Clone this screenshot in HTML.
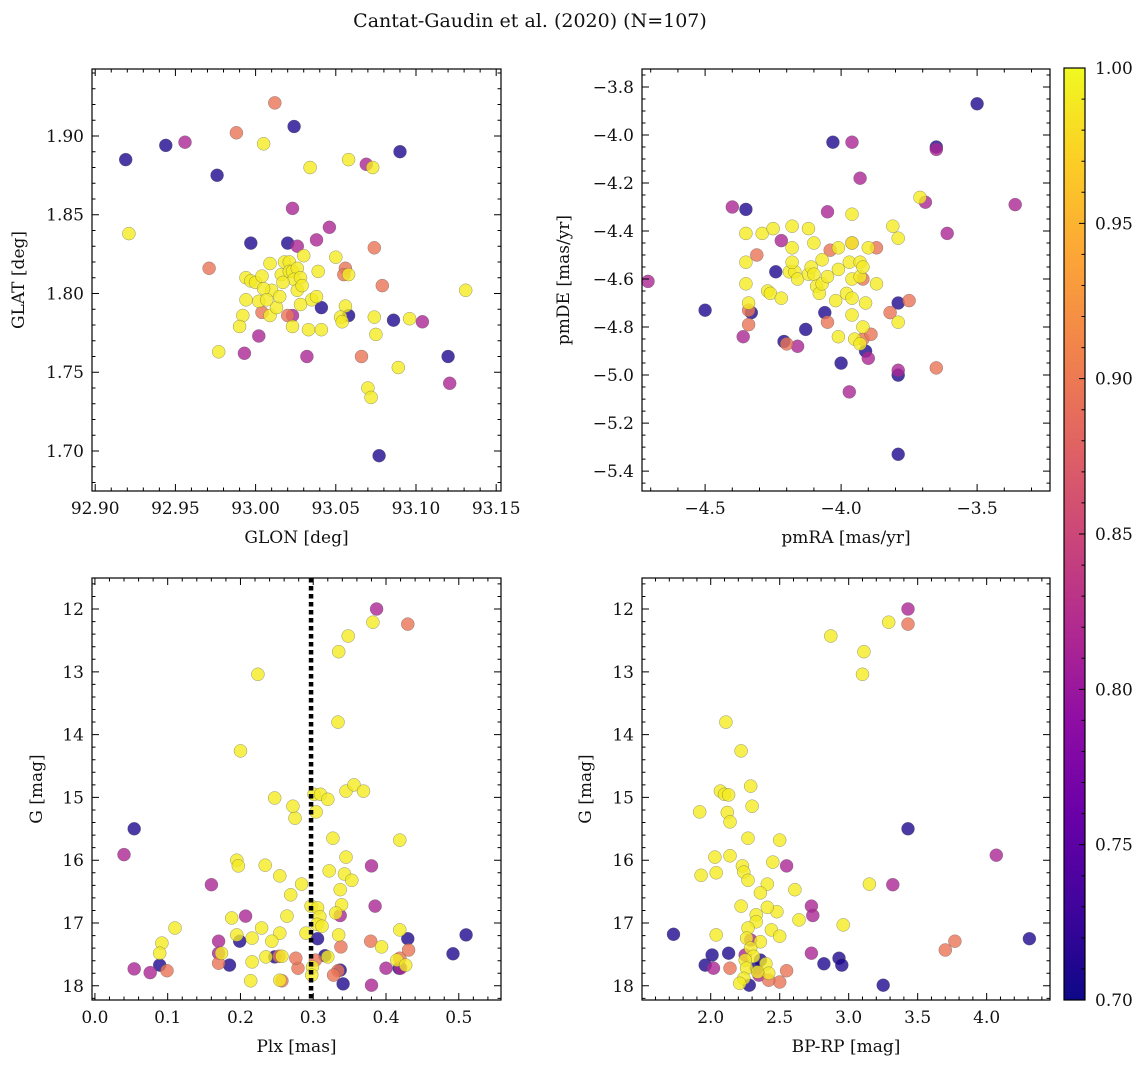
<!DOCTYPE html>
<html><head><meta charset="utf-8"><style>
html,body{margin:0;padding:0;background:#fff;}
svg text{font-family:"DejaVu Serif","Liberation Serif",serif;fill:#111;}
</style></head><body>
<svg id="fig" width="1148" height="1068" viewBox="0 0 1148 1068" xmlns="http://www.w3.org/2000/svg">
<defs><linearGradient id="plasma" x1="0" y1="1" x2="0" y2="0">
<stop offset="0" stop-color="#0d0887"/><stop offset="0.1" stop-color="#41049d"/><stop offset="0.2" stop-color="#6a00a8"/><stop offset="0.3" stop-color="#8f0da4"/><stop offset="0.4" stop-color="#b12a90"/><stop offset="0.5" stop-color="#cc4778"/><stop offset="0.6" stop-color="#e16462"/><stop offset="0.7" stop-color="#f2844b"/><stop offset="0.8" stop-color="#fca636"/><stop offset="0.9" stop-color="#fcce25"/><stop offset="1" stop-color="#f0f921"/>
</linearGradient></defs>
<text x="530" y="27" font-size="19" text-anchor="middle">Cantat-Gaudin et al. (2020) (N=107)</text>
</svg>
<script>
// membership probability per group: dark, purple, orange, yellow
const groupP = [0.71, 0.815, 0.895, 0.99];
// top-left: GLON / GLAT
const tlLonDark=[92.919,92.944,92.976,92.997,93.020,93.024,93.041,93.058,93.086,93.077,93.090,93.120];
const tlLatDark=[1.885,1.894,1.875,1.832,1.832,1.906,1.791,1.786,1.783,1.697,1.890,1.760];
const tlLonPurple=[92.956,93.023,93.026,93.038,93.046,92.993,93.002,93.032,93.069,93.104,93.121,93.023];
const tlLatPurple=[1.896,1.854,1.830,1.834,1.842,1.762,1.773,1.760,1.882,1.782,1.743,1.786];
const tlLonOrange=[93.012,92.988,92.971,93.074,93.056,93.079,93.066,93.055,93.004,93.020];
const tlLatOrange=[1.921,1.902,1.816,1.829,1.816,1.805,1.760,1.812,1.788,1.786];
const tlLonYellow=[92.921,93.005,93.034,93.058,93.073,92.977,92.992,92.990,92.994,92.997,93.000,93.004,93.009,93.016,93.018,93.021,93.021,93.023,93.026,93.024,93.028,93.026,93.029,93.017,93.010,93.009,93.013,93.023,93.033,93.035,93.038,93.039,93.041,93.050,93.056,93.058,93.053,93.054,93.028,93.002,93.005,93.070,93.072,93.074,93.075,93.089,93.096,93.131,93.030,93.015,93.007,92.994];
const tlLatYellow=[1.838,1.895,1.880,1.885,1.880,1.763,1.786,1.779,1.810,1.808,1.807,1.811,1.819,1.812,1.820,1.820,1.814,1.814,1.816,1.809,1.810,1.802,1.805,1.807,1.802,1.786,1.791,1.779,1.777,1.796,1.798,1.814,1.777,1.823,1.792,1.812,1.785,1.782,1.793,1.795,1.803,1.740,1.734,1.785,1.774,1.753,1.784,1.802,1.824,1.798,1.796,1.796];
// top-right: pmRA / pmDE
const trRaDark=[-3.50,-4.03,-3.65,-4.35,-4.50,-4.33,-4.24,-4.13,-4.21,-4.06,-4.00,-3.91,-3.79,-3.79,-3.79];
const trDeDark=[-3.87,-4.03,-4.05,-4.31,-4.73,-4.74,-4.57,-4.81,-4.86,-4.74,-4.95,-4.90,-4.70,-5.00,-5.33];
const trRaPurple=[-4.71,-4.40,-3.96,-3.93,-4.05,-3.65,-3.69,-3.61,-3.36,-4.36,-4.16,-3.97,-3.90,-3.79,-4.22];
const trDePurple=[-4.61,-4.30,-4.03,-4.18,-4.32,-4.06,-4.28,-4.41,-4.29,-4.84,-4.88,-5.07,-4.93,-4.98,-4.44];
const trRaOrange=[-4.31,-4.34,-4.34,-4.20,-4.05,-4.04,-3.96,-3.92,-3.89,-3.92,-3.82,-3.75,-3.65,-3.87];
const trDeOrange=[-4.50,-4.73,-4.79,-4.87,-4.78,-4.48,-4.45,-4.85,-4.83,-4.60,-4.74,-4.69,-4.97,-4.47];
const trRaYellow=[-4.35,-4.29,-4.25,-4.18,-4.12,-4.35,-4.34,-4.27,-4.26,-4.19,-4.17,-4.18,-4.18,-4.16,-4.12,-4.11,-4.10,-4.09,-4.08,-4.07,-4.05,-4.01,-4.01,-3.98,-3.96,-3.97,-3.96,-3.96,-3.96,-3.96,-3.95,-3.93,-3.93,-3.92,-3.90,-3.91,-3.93,-3.92,-3.87,-3.81,-3.79,-3.79,-3.71,-4.01,-4.22,-4.02,-4.10,-4.07,-4.35];
const trDeYellow=[-4.41,-4.41,-4.39,-4.38,-4.39,-4.53,-4.70,-4.65,-4.66,-4.57,-4.57,-4.47,-4.53,-4.60,-4.58,-4.55,-4.58,-4.63,-4.66,-4.62,-4.59,-4.56,-4.47,-4.66,-4.60,-4.53,-4.45,-4.68,-4.75,-4.33,-4.85,-4.59,-4.53,-4.55,-4.47,-4.70,-4.87,-4.80,-4.62,-4.38,-4.43,-4.78,-4.26,-4.84,-4.68,-4.69,-4.45,-4.52,-4.62];
// bottom-left: Plx / G
const blPlxDark=[0.054,0.089,0.185,0.199,0.247,0.306,0.316,0.337,0.341,0.418,0.430,0.492,0.510];
const blGDark=[15.50,17.67,17.67,17.29,17.54,17.25,17.52,17.75,17.97,17.72,17.25,17.49,17.19];
const blPlxPurple=[0.040,0.054,0.076,0.160,0.170,0.170,0.207,0.387,0.380,0.385,0.337,0.380,0.400,0.420];
const blGPurple=[15.91,17.73,17.79,16.39,17.29,17.48,16.89,12.00,16.09,16.73,16.88,17.99,17.72,17.72];
const blPlxOrange=[0.430,0.099,0.170,0.253,0.257,0.279,0.338,0.334,0.328,0.379,0.419,0.431,0.303,0.276];
const blGOrange=[12.24,17.76,17.64,17.53,17.92,17.72,17.38,17.76,17.83,17.29,17.56,17.43,17.59,17.56];
const blPlxYellow=[0.382,0.348,0.335,0.224,0.334,0.200,0.247,0.275,0.272,0.301,0.310,0.320,0.345,0.356,0.369,0.304,0.327,0.419,0.345,0.195,0.197,0.234,0.254,0.322,0.343,0.284,0.269,0.337,0.353,0.297,0.306,0.339,0.264,0.309,0.331,0.305,0.312,0.188,0.110,0.092,0.229,0.254,0.290,0.195,0.216,0.243,0.335,0.419,0.089,0.174,0.235,0.299,0.216,0.415,0.427,0.394,0.257,0.214,0.298,0.320,0.254];
const blGYellow=[12.21,12.43,12.68,13.04,13.80,14.26,15.01,15.33,15.14,14.95,14.95,15.03,14.90,14.80,14.90,15.23,15.65,15.68,15.95,16.00,16.09,16.08,16.25,16.17,16.22,16.38,16.55,16.47,16.32,16.73,16.76,16.71,16.89,16.90,16.84,17.02,17.05,16.92,17.08,17.32,17.08,17.16,17.16,17.19,17.24,17.29,17.19,17.11,17.48,17.48,17.54,17.70,17.62,17.59,17.67,17.38,17.53,17.92,17.83,17.54,17.91];
// bottom-right: BP-RP / G
const brColDark=[1.73,1.96,2.01,2.13,2.28,2.33,2.82,2.93,2.95,3.25,3.43,4.31,2.36];
const brGDark=[17.18,17.67,17.51,17.48,17.99,17.72,17.65,17.56,17.67,17.99,15.50,17.25,17.59];
const brColPurple=[3.43,4.07,3.32,2.55,2.73,2.74,2.73,2.29,2.02,2.35,2.25];
const brGPurple=[12.00,15.92,16.39,16.09,16.73,16.88,17.48,17.27,17.72,17.83,17.51];
const brColOrange=[3.43,3.77,3.70,2.55,2.50,2.42,2.14];
const brGOrange=[12.24,17.29,17.43,17.76,17.94,17.91,17.72];
const brColYellow=[2.87,3.29,3.11,3.10,2.11,2.22,2.29,2.07,2.10,2.13,1.92,2.12,2.14,2.30,2.27,2.50,2.14,2.03,2.23,2.24,2.27,2.04,1.93,2.41,2.45,2.61,3.15,2.36,2.48,2.64,2.33,2.22,2.41,2.33,2.96,2.27,2.44,2.04,2.50,2.26,2.36,2.29,2.31,2.25,2.26,2.40,2.24,2.21,2.42,2.34];
const brGYellow=[12.43,12.21,12.68,13.04,13.80,14.26,14.82,14.90,14.95,14.96,15.23,15.24,15.39,15.14,15.65,15.68,15.93,15.95,16.09,16.19,16.32,16.20,16.24,16.38,16.03,16.47,16.38,16.52,16.82,16.95,16.87,16.73,16.75,16.98,17.03,17.08,17.11,17.19,17.21,17.24,17.30,17.40,17.53,17.59,17.72,17.65,17.88,17.96,17.80,17.78];
const plxLine = 0.297;
const cbTicks = [0.70,0.75,0.80,0.85,0.90,0.95,1.00];

const NS="http://www.w3.org/2000/svg";
const svg=document.getElementById('fig');
function mk(tag,attrs,parent){const e=document.createElementNS(NS,tag);for(const k in attrs)e.setAttribute(k,attrs[k]);(parent||svg).appendChild(e);return e;}
const stops=[[0,13,8,135],[0.1,65,4,157],[0.2,106,0,168],[0.3,143,13,164],[0.4,177,42,144],[0.5,204,71,120],[0.6,225,100,98],[0.7,242,132,75],[0.8,252,166,54],[0.9,252,206,37],[1,240,249,33]];
function plasma(t){t=Math.max(0,Math.min(1,t));for(let i=1;i<stops.length;i++){if(t<=stops[i][0]){const a=stops[i-1],b=stops[i],f=(t-a[0])/(b[0]-a[0]);return 'rgb('+[1,2,3].map(j=>Math.round(a[j]+f*(b[j]-a[j]))).join(',')+')';}}return 'rgb(240,249,33)';}
const vmin=0.70,vmax=1.00;
function fmt(v,d){const s=Math.abs(v).toFixed(d);return (v<-1e-9?'\u2212':'')+s;}

function panel(cfg){
  const {name,L,T,R,B,xmin,xmax,ymin,ymax,xmaj,xmin_,ymaj,ymin_,xd,yd,xlabel,ylabel,invert,groups}=cfg;
  const sx=v=>L+(v-xmin)/(xmax-xmin)*(R-L);
  const sy=invert?(v=>T+(v-ymin)/(ymax-ymin)*(B-T)):(v=>B-(v-ymin)/(ymax-ymin)*(B-T));
  const g=mk('g',{});
  
  
  const pg=mk('g',{},g);
  
  
  groups.forEach((gr,gi)=>{
    const n=Math.min(gr[0].length,gr[1].length);
    for(let i=0;i<n;i++){
      const c=mk('circle',{cx:sx(gr[0][i]).toFixed(1),cy:sy(gr[1][i]).toFixed(1),r:6.5,fill:plasma((groupP[gi]-vmin)/(vmax-vmin)),'fill-opacity':0.8,stroke:'#555','stroke-width':0.5,'stroke-opacity':0.6},pg);
      
      
    }
  });
  if(cfg.vline!==undefined){
    const l=mk('line',{x1:sx(cfg.vline),x2:sx(cfg.vline),y1:T,y2:B,stroke:'#000','stroke-width':4.5,'stroke-dasharray':'4.5 3.5'},g);
    
    
  }
  const fr=mk('rect',{x:L,y:T,width:R-L,height:B-T,fill:'none',stroke:'#000','stroke-width':1.2},g);
  
  
  function ticks(lo,hi,step){const a=[];for(let k=Math.ceil(lo/step-1e-6);k<=Math.floor(hi/step+1e-6);k++)a.push(+(k*step).toFixed(6));return a;}
  let d='';
  ticks(xmin,xmax,xmin_).forEach(v=>{const x=sx(v);d+=`M${x},${B}v-3.5M${x},${T}v3.5`;});
  ticks(ymin,ymax,ymin_).forEach(v=>{const y=sy(v);d+=`M${L},${y}h3.5M${R},${y}h-3.5`;});
  ticks(xmin,xmax,xmaj).forEach(v=>{const x=sx(v);d+=`M${x},${B}v-7M${x},${T}v7`;
    const t=mk('text',{x:x,y:B+23,'font-size':17,'text-anchor':'middle'},g);t.textContent=fmt(v,xd);
    });
  ticks(ymin,ymax,ymaj).forEach(v=>{const y=sy(v);d+=`M${L},${y}h7M${R},${y}h-7`;
    const t=mk('text',{x:L-8,y:y+6,'font-size':17,'text-anchor':'end'},g);t.textContent=fmt(v,yd);
    });
  const tp=mk('path',{d:d,stroke:'#000','stroke-width':1,fill:'none'},g);
  
  const xl=mk('text',{x:(L+R)/2,y:B+52,'font-size':17,'text-anchor':'middle'},g);xl.textContent=xlabel;
  
  const yx=cfg.ylx||(L-68),yy=(T+B)/2;
  const yl=mk('text',{x:yx,y:yy,'font-size':17,'text-anchor':'middle',transform:`rotate(-90 ${yx} ${yy})`},g);yl.textContent=ylabel;
  
}
panel({name:'glon-glat',L:92,T:69,R:501,B:491,ylx:24,xmin:92.898,xmax:93.153,ymin:1.6746,ymax:1.9425,xmaj:0.05,xmin_:0.01,ymaj:0.05,ymin_:0.01,xd:2,yd:2,xlabel:'GLON [deg]',ylabel:'GLAT [deg]',
  groups:[[tlLonDark,tlLatDark],[tlLonPurple,tlLatPurple],[tlLonOrange,tlLatOrange],[tlLonYellow,tlLatYellow]]});
panel({name:'pm',L:642,T:69,R:1050,B:491,ylx:569,xmin:-4.732,xmax:-3.232,ymin:-5.483,ymax:-3.725,xmaj:0.5,xmin_:0.1,ymaj:0.2,ymin_:0.05,xd:1,yd:1,xlabel:'pmRA [mas/yr]',ylabel:'pmDE [mas/yr]',
  groups:[[trRaDark,trDeDark],[trRaPurple,trDePurple],[trRaOrange,trDeOrange],[trRaYellow,trDeYellow]]});
panel({name:'plx-g',L:92,T:578,R:501,B:1000,ylx:42,xmin:-0.004,xmax:0.558,ymin:11.506,ymax:18.226,xmaj:0.1,xmin_:0.02,ymaj:1,ymin_:0.2,xd:1,yd:0,xlabel:'Plx [mas]',ylabel:'G [mag]',invert:true,vline:plxLine,
  groups:[[blPlxDark,blGDark],[blPlxPurple,blGPurple],[blPlxOrange,blGOrange],[blPlxYellow,blGYellow]]});
panel({name:'cmd',L:642,T:578,R:1050,B:1000,ylx:591,xmin:1.502,xmax:4.459,ymin:11.506,ymax:18.226,xmaj:0.5,xmin_:0.1,ymaj:1,ymin_:0.2,xd:1,yd:0,xlabel:'BP-RP [mag]',ylabel:'G [mag]',invert:true,
  groups:[[brColDark,brGDark],[brColPurple,brGPurple],[brColOrange,brGOrange],[brColYellow,brGYellow]]});
// colorbar
(function(){
  const L=1064,R=1085,T=68,B=1000;
  const g=mk('g',{});
  
  
  const r=mk('rect',{x:L,y:T,width:R-L,height:B-T,fill:'url(#plasma)',stroke:'#000','stroke-width':1.2},g);
  
  const sy=v=>B-(v-vmin)/(vmax-vmin)*(B-T);
  let d='';
  for(let k=70;k<=100;k++){const y=sy(k/100);d+=`M${R},${y}h${k%5===0?-6:-3.5}`;}
  const tp=mk('path',{d:d,stroke:'#000','stroke-width':1},g);
  
  cbTicks.forEach(v=>{const t=mk('text',{x:R+10,y:sy(v)+6,'font-size':17},g);t.textContent=v.toFixed(2);
    });
})();
</script>
</body></html>
